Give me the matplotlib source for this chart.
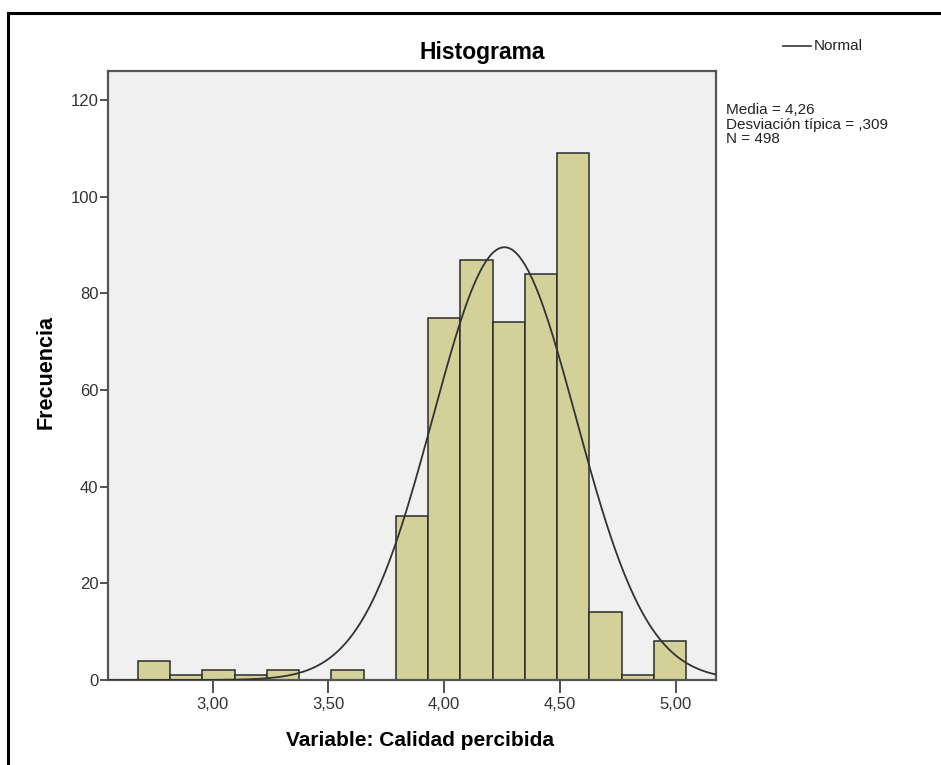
import numpy as np
import matplotlib.pyplot as plt
from matplotlib.lines import Line2D

plt.rcParams['font.family'] = ['Liberation Sans', 'DejaVu Sans']

# histogram
bin_start = 2.677
bin_width = 0.1393
counts = [4, 1, 2, 1, 2, 0, 2, 0, 34, 75, 87, 74, 84, 109, 14, 1, 8]
x_ticks = [3.0, 3.5, 4.0, 4.5, 5.0]
x_tick_labels = ["3,00", "3,50", "4,00", "4,50", "5,00"]
y_ticks = [0, 20, 40, 60, 80, 100, 120]

media = 4.26
desv = 0.309
n_total = 498

W, H = 941, 765
fig = plt.figure(figsize=(W / 100, H / 100), dpi=100)
ax = fig.add_axes([108 / W, 1 - 680 / H, (716 - 108) / W, (680 - 70.7) / H])
ax.set_facecolor('#f0f0f0')

edges = bin_start + bin_width * np.arange(len(counts))
ax.bar(edges, counts, width=bin_width, align='edge', color='#d4d09a',
       edgecolor='#2b2b2b', linewidth=1.1, zorder=2)

# normal curve from the stated mean, sd and N
xs = np.linspace(2.548, 5.174, 400)
ys = n_total * bin_width / (desv * np.sqrt(2 * np.pi)) * np.exp(-0.5 * ((xs - media) / desv) ** 2)
ax.plot(xs, ys, color='#333333', linewidth=1.3, zorder=3)

ax.set_xlim(2.548, 5.174)
ax.set_ylim(0, 126.1)
ax.set_xticks(x_ticks)
ax.set_xticklabels(x_tick_labels)
ax.set_yticks(y_ticks)
ax.tick_params(axis='x', length=9, width=1.3, color='#444444', labelsize=12, labelcolor='#333333', pad=3)
ax.tick_params(axis='y', length=6, width=1.3, color='#444444', labelsize=12, labelcolor='#333333', pad=1)
for s in ax.spines.values():
    s.set_color('#555555')
    s.set_linewidth(1.6)

ax.set_xlabel("Variable: Calidad percibida", fontsize=15, fontweight='bold')
ax.xaxis.set_label_coords(0.513, -0.083)
ax.set_ylabel("Frecuencia", fontsize=15.5, fontweight='bold')
ax.yaxis.set_label_coords(-0.085, 0.505)

fig.text(482 / W, 1 - 52 / H, "Histograma", fontsize=16.5, fontweight='bold',
         ha='center', va='center')

# legend
fig.add_artist(Line2D([783 / W, 811 / W], [1 - 46 / H, 1 - 46 / H], color='#333333', linewidth=1.2))
fig.text(814 / W, 1 - 46 / H, "Normal", fontsize=11, ha='left', va='center', color='#222222')

fig.text(726 / W, 1 - 103 / H,
         "Media = 4,26\nDesviación típica = ,309\nN = 498",
         fontsize=11, ha='left', va='top', linespacing=1.05, color='#222222')

# outer frame
fig.add_artist(Line2D([8 / W, 1.0], [1 - 13 / H, 1 - 13 / H], color='black', linewidth=2.2))
fig.add_artist(Line2D([8 / W, 8 / W], [0, 1 - 13 / H], color='black', linewidth=2.2))

fig.savefig('out.png', dpi=100)
